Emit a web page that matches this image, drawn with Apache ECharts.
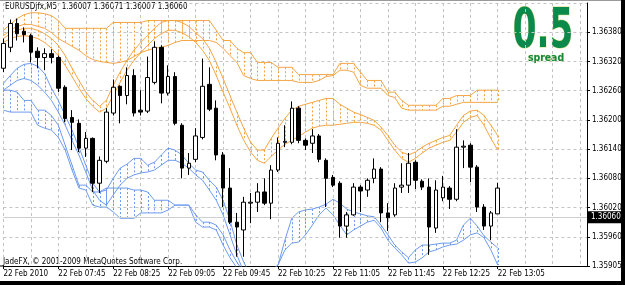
<!DOCTYPE html>
<html>
<head>
<meta charset="utf-8">
<script src="https://cdn.jsdelivr.net/npm/echarts@6/dist/echarts.min.js"></script>
<style>
  html, body { margin: 0; padding: 0; background: #fff; }
  #chart { width: 625px; height: 285px; }
</style>
</head>
<body>
<div id="chart"></div>
<script>
// M5 bars, 22 Feb 2010 from 07:05 -- [open, close, low, high]
const candles = [
  [1.36306, 1.36357, 1.36298, 1.36367], [1.36349, 1.36398, 1.36339, 1.36406], [1.36398, 1.36377, 1.36363, 1.36408],
  [1.36382, 1.36375, 1.36359, 1.36390], [1.36373, 1.36339, 1.36318, 1.36377], [1.36341, 1.36328, 1.36306, 1.36349],
  [1.36328, 1.36336, 1.36302, 1.36347], [1.36336, 1.36328, 1.36316, 1.36345], [1.36328, 1.36265, 1.36257, 1.36332],
  [1.36267, 1.36203, 1.36195, 1.36271], [1.36205, 1.36195, 1.36138, 1.36220], [1.36193, 1.36142, 1.36134, 1.36201],
  [1.36142, 1.36162, 1.36124, 1.36175], [1.36162, 1.36070, 1.36052, 1.36164], [1.36070, 1.36117, 1.36050, 1.36125],
  [1.36115, 1.36216, 1.36111, 1.36224], [1.36214, 1.36267, 1.36209, 1.36283], [1.36269, 1.36250, 1.36193, 1.36271],
  [1.36250, 1.36291, 1.36232, 1.36308], [1.36291, 1.36214, 1.36207, 1.36304], [1.36220, 1.36216, 1.36209, 1.36261],
  [1.36218, 1.36287, 1.36214, 1.36330], [1.36277, 1.36349, 1.36273, 1.36361], [1.36349, 1.36255, 1.36234, 1.36353],
  [1.36255, 1.36289, 1.36250, 1.36312], [1.36289, 1.36193, 1.36189, 1.36298], [1.36189, 1.36101, 1.36080, 1.36193],
  [1.36101, 1.36111, 1.36087, 1.36132], [1.36119, 1.36167, 1.36113, 1.36183], [1.36164, 1.36269, 1.36160, 1.36326],
  [1.36273, 1.36222, 1.36218, 1.36308], [1.36224, 1.36128, 1.36117, 1.36240], [1.36128, 1.36060, 1.36021, 1.36134],
  [1.36060, 1.35990, 1.35986, 1.36101], [1.35990, 1.35980, 1.35919, 1.36009], [1.35974, 1.36031, 1.35919, 1.36042],
  [1.36029, 1.36031, 1.35988, 1.36050], [1.36031, 1.36052, 1.36011, 1.36070], [1.36052, 1.36029, 1.36025, 1.36080],
  [1.36029, 1.36097, 1.35996, 1.36107], [1.36097, 1.36152, 1.36093, 1.36164], [1.36154, 1.36156, 1.36144, 1.36189],
  [1.36154, 1.36224, 1.36150, 1.36238], [1.36224, 1.36158, 1.36152, 1.36228], [1.36158, 1.36148, 1.36138, 1.36162],
  [1.36152, 1.36167, 1.36132, 1.36181], [1.36167, 1.36119, 1.36113, 1.36171], [1.36117, 1.36080, 1.36021, 1.36121],
  [1.36082, 1.36066, 1.36062, 1.36087], [1.36070, 1.35982, 1.35958, 1.36074], [1.35982, 1.36005, 1.35958, 1.36011],
  [1.36005, 1.36062, 1.36003, 1.36070], [1.36062, 1.36054, 1.36011, 1.36066], [1.36056, 1.36076, 1.36042, 1.36080],
  [1.36080, 1.36099, 1.36070, 1.36121], [1.36099, 1.36009, 1.35990, 1.36103], [1.36009, 1.35999, 1.35972, 1.36029],
  [1.36005, 1.36060, 1.36001, 1.36070], [1.36062, 1.36066, 1.36050, 1.36111], [1.36066, 1.36111, 1.36050, 1.36132],
  [1.36113, 1.36076, 1.36058, 1.36117], [1.36074, 1.36062, 1.36056, 1.36078], [1.36062, 1.35980, 1.35923, 1.36080],
  [1.35978, 1.36056, 1.35968, 1.36076], [1.36040, 1.36062, 1.36033, 1.36085], [1.36060, 1.36037, 1.36017, 1.36064],
  [1.36037, 1.36144, 1.36033, 1.36181], [1.36144, 1.36146, 1.36101, 1.36158], [1.36148, 1.36103, 1.36072, 1.36152],
  [1.36103, 1.36021, 1.36011, 1.36107], [1.36021, 1.35982, 1.35974, 1.36027], [1.35982, 1.36009, 1.35953, 1.36013],
  [1.36007, 1.36060, 1.36007, 1.36071]
]

// orange stepped band
const orangeTop = [
  1.36384, 1.36396, 1.36408, 1.36416, 1.36420, 1.36420, 1.36418, 1.36414, 1.36404, 1.36388,
  1.36388, 1.36388, 1.36388, 1.36388, 1.36388, 1.36388, 1.36400, 1.36400, 1.36400, 1.36400,
  1.36400, 1.36404, 1.36404, 1.36404, 1.36404, 1.36404, 1.36404, 1.36404, 1.36404, 1.36404,
  1.36404, 1.36384, 1.36363, 1.36363, 1.36347, 1.36338, 1.36338, 1.36318, 1.36318, 1.36318,
  1.36308, 1.36308, 1.36308, 1.36293, 1.36293, 1.36293, 1.36293, 1.36293, 1.36293, 1.36316,
  1.36316, 1.36316, 1.36298, 1.36281, 1.36281, 1.36281, 1.36257, 1.36257, 1.36240, 1.36230,
  1.36230, 1.36230, 1.36230, 1.36230, 1.36244, 1.36244, 1.36250, 1.36250, 1.36250, 1.36261,
  1.36261, 1.36261, 1.36261
]
const orangeBottom = [
  1.36373, 1.36384, 1.36392, 1.36396, 1.36396, 1.36392, 1.36388, 1.36379, 1.36367, 1.36359,
  1.36351, 1.36343, 1.36332, 1.36324, 1.36320, 1.36318, 1.36316, 1.36318, 1.36322, 1.36330,
  1.36338, 1.36343, 1.36347, 1.36349, 1.36353, 1.36359, 1.36363, 1.36363, 1.36363, 1.36363,
  1.36363, 1.36359, 1.36347, 1.36332, 1.36318, 1.36291, 1.36285, 1.36281, 1.36281, 1.36281,
  1.36281, 1.36281, 1.36281, 1.36277, 1.36277, 1.36277, 1.36281, 1.36289, 1.36291, 1.36302,
  1.36302, 1.36298, 1.36271, 1.36265, 1.36265, 1.36265, 1.36250, 1.36246, 1.36224, 1.36220,
  1.36220, 1.36220, 1.36220, 1.36220, 1.36228, 1.36228, 1.36232, 1.36236, 1.36236, 1.36236,
  1.36236, 1.36236, 1.36236
]
// orange smooth band
const orangeFast = [
  1.36367, 1.36377, 1.36384, 1.36388, 1.36388, 1.36384, 1.36377, 1.36367, 1.36353, 1.36332,
  1.36306, 1.36281, 1.36257, 1.36240, 1.36228, 1.36240, 1.36271, 1.36298, 1.36322, 1.36343,
  1.36359, 1.36373, 1.36388, 1.36400, 1.36404, 1.36404, 1.36400, 1.36392, 1.36379, 1.36367,
  1.36347, 1.36318, 1.36285, 1.36250, 1.36216, 1.36183, 1.36154, 1.36138, 1.36138, 1.36162,
  1.36183, 1.36203, 1.36220, 1.36228, 1.36232, 1.36236, 1.36240, 1.36244, 1.36244, 1.36232,
  1.36224, 1.36216, 1.36211, 1.36205, 1.36199, 1.36185, 1.36168, 1.36148, 1.36134, 1.36128,
  1.36134, 1.36144, 1.36152, 1.36158, 1.36164, 1.36168, 1.36189, 1.36209, 1.36218, 1.36220,
  1.36209, 1.36189, 1.36168
]
const orangeSlow = [
  1.36359, 1.36367, 1.36371, 1.36373, 1.36371, 1.36367, 1.36359, 1.36347, 1.36332, 1.36312,
  1.36289, 1.36265, 1.36244, 1.36228, 1.36216, 1.36224, 1.36250, 1.36277, 1.36302, 1.36322,
  1.36338, 1.36353, 1.36367, 1.36377, 1.36384, 1.36384, 1.36379, 1.36371, 1.36359, 1.36343,
  1.36322, 1.36291, 1.36257, 1.36224, 1.36189, 1.36158, 1.36134, 1.36117, 1.36111, 1.36125,
  1.36138, 1.36150, 1.36158, 1.36166, 1.36175, 1.36183, 1.36187, 1.36189, 1.36189, 1.36191,
  1.36193, 1.36195, 1.36195, 1.36193, 1.36189, 1.36179, 1.36158, 1.36138, 1.36121, 1.36113,
  1.36121, 1.36132, 1.36142, 1.36148, 1.36154, 1.36158, 1.36175, 1.36195, 1.36205, 1.36209,
  1.36189, 1.36162, 1.36138
]

// blue stepped band
const blueTop = [
  1.36261, 1.36261, 1.36257, 1.36240, 1.36240, 1.36220, 1.36220, 1.36209, 1.36189, 1.36148,
  1.36107, 1.36066, 1.36066, 1.36052, 1.36052, 1.36060, 1.36060, 1.36060, 1.36060, 1.36056,
  1.36056, 1.36052, 1.36035, 1.36035, 1.36035, 1.36025, 1.36025, 1.36025, 1.36005, 1.35990,
  1.35990, 1.35984, 1.35964, 1.35933, 1.35908, 1.35888
]
const blueBottom = [
  1.36220, 1.36216, 1.36216, 1.36216, 1.36216, 1.36189, 1.36183, 1.36179, 1.36164, 1.36138,
  1.36097, 1.36060, 1.36056, 1.36025, 1.36021, 1.36021, 1.36011, 1.35998, 1.35998, 1.35998,
  1.36009, 1.36009, 1.36009, 1.36009, 1.36015, 1.36025, 1.36025, 1.36025, 1.35990, 1.35980,
  1.35980, 1.35974, 1.35943, 1.35917, 1.35896, 1.35876
]
// blue smooth band
const blueFast = [
  1.36275, 1.36291, 1.36306, 1.36314, 1.36316, 1.36310, 1.36295, 1.36265, 1.36240, 1.36209,
  1.36179, 1.36144, 1.36107, 1.36070, 1.36052, 1.36056, 1.36080, 1.36101, 1.36109, 1.36121,
  1.36121, 1.36107, 1.36113, 1.36128, 1.36142, 1.36138, 1.36128, 1.36111, 1.36097, 1.36093,
  1.36076, 1.36062, 1.36035, 1.35994, 1.35943, 1.35908, 1.35882, 1.35872, 1.35882, 1.35892,
  1.35902, 1.35953, 1.35998, 1.36011, 1.36015, 1.36017, 1.36021, 1.36027, 1.36037, 1.36029,
  1.36017, 1.36011, 1.36007, 1.36003, 1.36001, 1.35984, 1.35964, 1.35943, 1.35929, 1.35917,
  1.35933, 1.35943, 1.35943, 1.35945, 1.35947, 1.35947, 1.35953, 1.35984, 1.35998, 1.35982,
  1.35962, 1.35949, 1.35937
]
const blueSlow = [
  1.36261, 1.36271, 1.36281, 1.36285, 1.36281, 1.36271, 1.36257, 1.36240, 1.36216, 1.36189,
  1.36158, 1.36128, 1.36093, 1.36056, 1.36035, 1.36025, 1.36046, 1.36066, 1.36080, 1.36087,
  1.36091, 1.36093, 1.36097, 1.36107, 1.36117, 1.36117, 1.36111, 1.36101, 1.36087, 1.36076,
  1.36056, 1.36035, 1.36005, 1.35964, 1.35923, 1.35888, 1.35872, 1.35872, 1.35876, 1.35888,
  1.35902, 1.35933, 1.35947, 1.35949, 1.35964, 1.35984, 1.36005, 1.36019, 1.36005, 1.35984,
  1.35964, 1.35974, 1.35982, 1.35990, 1.35994, 1.35978, 1.35953, 1.35937, 1.35923, 1.35906,
  1.35908, 1.35917, 1.35929, 1.35933, 1.35939, 1.35943, 1.35945, 1.35953, 1.35964, 1.35968,
  1.35958, 1.35933, 1.35902
]

// price scale
const yTickValues = [1.3590, 1.3596, 1.3602, 1.3608, 1.3614, 1.3620, 1.3626, 1.3632, 1.3638]
const yTickLabels = ['1.35905', '1.35960', '1.36020', '1.36080', '1.36140', '1.36200', '1.36260', '1.36320', '1.36380']
const lastPrice = 1.36060

// time axis: M5 bars from 07:05, chart shifted a few bars to the right
const times = []
for (let m = 7 * 60 + 5, k = 0; k < 86; k++, m += 5) {
  times.push(String(Math.floor(m / 60)).padStart(2, '0') + ':' + String(m % 60).padStart(2, '0'))
}

const ORANGE = '#f5a545'
const BLUE = '#6d9bef'
const FONT = "'DejaVu Sans Condensed', 'Liberation Sans', sans-serif"

const myChart = echarts.init(document.getElementById('chart'))

// dashed verticals between two lines (cloud hatching)
function hatch (upper, lower, color) {
  const data = []
  for (let i = 0; i < upper.length; i++) {
    if (upper[i] != null && lower[i] != null) data.push([i, upper[i], lower[i]])
  }
  return {
    type: 'custom',
    silent: true,
    clip: true,
    data: data,
    encode: { x: 0, y: [1, 2] },
    z: 1,
    renderItem (params, api) {
      const cs = params.coordSys
      const p1 = api.coord([api.value(0), api.value(1)])
      const p2 = api.coord([api.value(0), api.value(2)])
      const clamp = v => Math.max(cs.y, Math.min(cs.y + cs.height, v))
      const x = Math.round(p1[0]) + 0.5
      return {
        type: 'line',
        shape: { x1: x, y1: clamp(p1[1]), x2: x, y2: clamp(p2[1]) },
        style: { stroke: color, lineWidth: 1, lineDash: [2, 2] }
      }
    }
  }
}

function line (data, color) {
  return {
    type: 'line',
    data: data,
    symbol: 'none',
    silent: true,
    z: 2,
    lineStyle: { color: color, width: 1 }
  }
}

const option = {
  animation: false,
  grid: { left: 3.4, right: 38, top: 3, bottom: 19 },
  xAxis: {
    type: 'category',
    data: times,
    boundaryGap: false,
    axisLine: { lineStyle: { color: '#000', width: 1 } },
    axisTick: {
      length: 3,
      interval: i => i % 8 === 0 && i <= 72,
      lineStyle: { color: '#000' }
    },
    axisLabel: {
      interval: i => i % 8 === 0 && i <= 72,
      formatter: (v, i) => (i === 0 ? '22 Feb 2010' : '22 Feb ' + v),
      align: 'left',
      margin: 4,
      color: '#000',
      fontSize: 8,
      fontFamily: FONT
    },
    splitLine: {
      show: true,
      interval: i => i % 4 === 0,
      lineStyle: { color: '#c4c4c4', type: [3, 3] }
    }
  },
  yAxis: {
    type: 'value',
    position: 'right',
    min: 1.3590,
    max: 1.3644,
    interval: 0.0006,
    axisLine: { show: true, lineStyle: { color: '#000' } },
    axisTick: { show: true, length: 3, lineStyle: { color: '#000' } },
    axisLabel: {
      color: '#000',
      fontSize: 8,
      fontFamily: FONT,
      margin: 5,
      showMaxLabel: false,
      formatter: v => {
        const k = yTickValues.findIndex(t => Math.abs(t - v) < 1e-7)
        return k >= 0 ? yTickLabels[k] : ''
      }
    },
    splitLine: { lineStyle: { color: '#c4c4c4', type: [3, 3] } }
  },
  graphic: [
    {
      type: 'text', left: 5, top: 3, silent: true,
      style: { text: 'EURUSDjfx,M5  1.36007 1.36071 1.36007 1.36060', fill: '#000', font: '8px ' + FONT }
    },
    {
      type: 'text', left: 3, top: 258, silent: true,
      style: { text: 'JadeFX, \u00a9 2001-2009 MetaQuotes Software Corp.', fill: '#000', font: '8px ' + FONT }
    },
    {
      type: 'text', x: 543, y: 33, scaleX: 0.62, silent: true,
      style: {
        text: '0.5', fill: '#0b8a4b', stroke: '#d6df7c', lineWidth: 1,
        font: 'bold 55px "DejaVu Sans"', align: 'center', verticalAlign: 'middle'
      }
    },
    {
      type: 'text', x: 546, y: 58, scaleX: 0.85, silent: true,
      style: {
        text: 'spread', fill: '#13893f', stroke: '#d6df7c', lineWidth: 0.5,
        font: 'bold 11px "DejaVu Sans"', align: 'center', verticalAlign: 'middle'
      }
    },
    { type: 'rect', shape: { x: 621, y: 0, width: 4, height: 285 }, style: { fill: '#000' }, silent: true },
    { type: 'rect', shape: { x: 0, y: 281, width: 625, height: 4 }, style: { fill: '#000' }, silent: true },
    { type: 'rect', shape: { x: 0, y: 0, width: 621, height: 1 }, style: { fill: '#9a9a9a' }, silent: true },
    { type: 'rect', shape: { x: 0, y: 265.5, width: 4, height: 1 }, style: { fill: '#000' }, silent: true }
  ],
  series: [
    hatch(orangeTop, orangeBottom, ORANGE),
    hatch(orangeFast, orangeSlow, ORANGE),
    hatch(blueTop, blueBottom, BLUE),
    hatch(blueFast, blueSlow, BLUE),
    line(orangeTop, ORANGE),
    line(orangeBottom, ORANGE),
    line(orangeFast, ORANGE),
    line(orangeSlow, ORANGE),
    line(blueTop, BLUE),
    line(blueBottom, BLUE),
    line(blueFast, BLUE),
    line(blueSlow, BLUE),
    {
      type: 'candlestick',
      data: candles,
      barWidth: 4,
      z: 5,
      silent: true,
      itemStyle: {
        color: '#fff',
        color0: '#000',
        borderColor: '#000',
        borderColor0: '#000',
        borderWidth: 1
      },
      markLine: {
        symbol: 'none',
        silent: true,
        animation: false,
        data: [{ yAxis: lastPrice }],
        lineStyle: { color: '#cfcfcf', type: 'solid', width: 1 },
        label: {
          position: 'end',
          distance: 1,
          formatter: '1.36060',
          backgroundColor: '#000',
          color: '#fff',
          fontSize: 8,
          fontFamily: FONT,
          padding: [2, 4, 2, 3]
        }
      }
    }
  ]
}

myChart.setOption(option)
window.addEventListener('resize', () => {
  myChart.resize()
})
</script>
</body>
</html>
